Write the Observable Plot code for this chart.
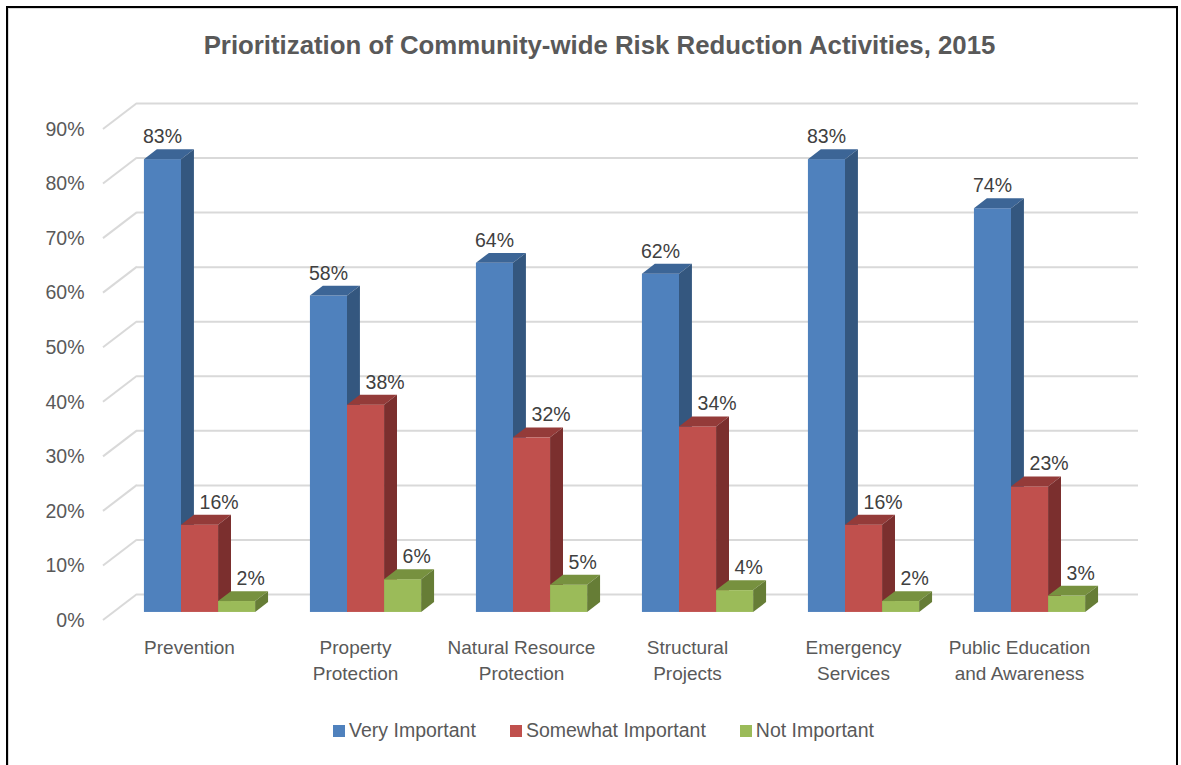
<!DOCTYPE html>
<html>
<head>
<meta charset="utf-8">
<script src="https://cdn.jsdelivr.net/npm/d3@7"></script>
<script src="https://cdn.jsdelivr.net/npm/@observablehq/plot@0.6"></script>
<style>
  html, body { margin: 0; padding: 0; background: #fff; }
  body { width: 1181px; height: 765px; overflow: hidden; position: relative; font-family: "Liberation Sans", Arial, sans-serif; }
  #frame { position: absolute; left: 6px; top: 6px; width: 1168px; height: 820px; border: 2px solid #000; box-shadow: inset 1px 1px 0 #d9d9d9; }
  #title { position: absolute; left: 9px; top: 31px; width: 1181px; text-align: center; font-weight: bold; font-size: 25.8px; color: #595959; }
  #chart { position: absolute; left: 0; top: 80px; }
  #legend { position: absolute; left: 13px; top: 719px; width: 1181px; display: flex; justify-content: center; gap: 34px; font-size: 19.5px; color: #595959; }
  #legend .item { display: flex; align-items: center; }
  #legend .sw { width: 12px; height: 12px; margin-right: 4px; }
</style>
</head>
<body>
<div id="frame"></div>
<div id="title">Prioritization of Community-wide Risk Reduction Activities, 2015</div>
<div id="chart"></div>
<div id="legend"></div>
<script>
const categories = ["Prevention", "Property Protection", "Natural Resource Protection", "Structural Projects", "Emergency Services", "Public Education and Awareness"];
const categoryLabels = ["Prevention", "Property\nProtection", "Natural Resource\nProtection", "Structural\nProjects", "Emergency\nServices", "Public Education\nand Awareness"];
const seriesNames = ["Very Important", "Somewhat Important", "Not Important"];
const veryImportant = [83, 58, 64, 62, 83, 74];
const somewhatImportant = [16, 38, 32, 34, 16, 23];
const notImportant = [2, 6, 5, 4, 2, 3];
const yTicks = [0, 10, 20, 30, 40, 50, 60, 70, 80, 90];

const frontColors = ["#4f81bd", "#c0504d", "#9bbb59"];
const topColors = ["#3c6596", "#943b39", "#77913f"];
const sideColors = ["#34577f", "#7b2f2e", "#667d36"];

const seriesValues = [veryImportant, somewhatImportant, notImportant];
const rows = [];
categories.forEach((c, ci) => {
  seriesNames.forEach((s, si) => {
    rows.push({category: c, series: s, si, value: seriesValues[si][ci]});
  });
});

const PADDING_INNER = 0.33;
// 3D depth vector (pixels) from front axis plane to back wall
const DEPTH = [34, -26];
const BAR_FRONT = 0.31;  // bar front as fraction of depth
const BAR_DEPTH = 0.38;  // bar depth as fraction of depth

function bandGeometry(x) {
  const step = x(categories[1]) - x(categories[0]);
  const bw = step * (1 - PADDING_INNER);
  const raw = typeof x.bandwidth === "function" ? x.bandwidth() : x.bandwidth;
  const half = (raw || 0) / 2;
  return {bw, center: c => x(c) + half};
}

function walls(index, scales, values, dims) {
  const y = scales.y;
  const g = d3.create("svg:g");
  const x0 = dims.marginLeft;
  for (const t of yTicks) {
    g.append("line")
      .attr("x1", x0).attr("y1", y(t))
      .attr("x2", x0 + DEPTH[0]).attr("y2", y(t) + DEPTH[1])
      .attr("stroke", "#d9d9d9").attr("stroke-width", 2);
  }
  return g.node();
}

function bars3d(index, scales, values, dims) {
  const x = scales.x, y = scales.y;
  const {bw, center} = bandGeometry(x);
  const g = d3.create("svg:g");
  const fx = DEPTH[0] * BAR_FRONT, fy = DEPTH[1] * BAR_FRONT;
  const ddx = DEPTH[0] * BAR_DEPTH, ddy = DEPTH[1] * BAR_DEPTH;
  const w = bw / 3;
  for (const r of rows) {
    const xl = center(r.category) - bw / 2 + w * r.si + fx;
    const xr = xl + w;
    const yb = y(0) + fy;
    const yt = y(r.value) + fy;
    g.append("rect").attr("x", xl).attr("y", yt).attr("width", w).attr("height", yb - yt)
      .attr("fill", frontColors[r.si]);
    g.append("polygon")
      .attr("points", [[xl, yt], [xr, yt], [xr + ddx, yt + ddy], [xl + ddx, yt + ddy]].map(p => p.join(",")).join(" "))
      .attr("fill", topColors[r.si]);
    g.append("polygon")
      .attr("points", [[xr, yt], [xr, yb], [xr + ddx, yb + ddy], [xr + ddx, yt + ddy]].map(p => p.join(",")).join(" "))
      .attr("fill", sideColors[r.si]);
  }
  for (const r of rows) {
    const xc = center(r.category) - bw / 2 + w * r.si + fx + w / 2;
    const yt = y(r.value) + fy;
    g.append("text").attr("x", xc).attr("y", yt - 16)
      .attr("text-anchor", r.si === 0 ? "middle" : "start").attr("fill", "#404040")
      .attr("font-size", 19.5).text(r.value + "%");
  }
  return g.node();
}

const plot = Plot.plot({
  width: 1181,
  height: 620,
  marginLeft: 103,
  marginRight: 77,
  marginTop: 49,
  marginBottom: 80,
  style: {fontFamily: '"Liberation Sans", Arial, sans-serif', fontSize: "19px", color: "#595959", background: "transparent", overflow: "visible"},
  x: {domain: categories, paddingInner: PADDING_INNER, paddingOuter: PADDING_INNER / 2, axis: null},
  y: {domain: [0, 90], axis: null},
  marks: [
    Plot.ruleY(yTicks, {y: d => d, dx: DEPTH[0], dy: DEPTH[1], stroke: "#d9d9d9", strokeWidth: 2, strokeOpacity: 1}),
    walls,
    bars3d,
    Plot.text(yTicks, {y: d => d, text: d => d + "%", frameAnchor: "left", textAnchor: "end", dx: -19, fill: "#595959", fontSize: 19.5}),
    Plot.text(categories, {x: d => d, y: () => 0, text: (d, i) => categoryLabels[i], lineAnchor: "top", dy: 15, lineHeight: 1.36, fill: "#595959", fontSize: 19})
  ]
});
document.getElementById("chart").appendChild(plot);

const legend = d3.select("#legend");
seriesNames.forEach((s, i) => {
  const item = legend.append("div").attr("class", "item");
  item.append("div").attr("class", "sw").style("background", frontColors[i]);
  item.append("span").text(s);
});
</script>
</body>
</html>
